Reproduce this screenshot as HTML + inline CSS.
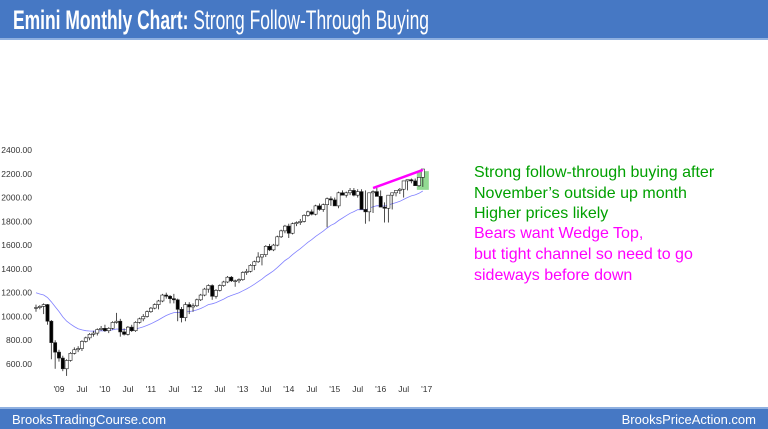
<!DOCTYPE html>
<html><head><meta charset="utf-8"><style>
html,body{margin:0;padding:0;background:#fff;}
svg{display:block;font-family:"Liberation Sans",Arial,sans-serif;}
</style></head><body>
<svg id="chart" width="768" height="429" viewBox="0 0 768 429" xmlns="http://www.w3.org/2000/svg">
<rect x="0" y="0" width="768" height="38" fill="#4678c4"/>
<rect x="0" y="38" width="768" height="2" fill="#8fb0e0"/>
<text x="13" y="29" font-size="27" fill="#fff" textLength="416" lengthAdjust="spacingAndGlyphs"><tspan font-weight="bold">Emini Monthly Chart:</tspan> Strong Follow-Through Buying</text>
<g id="yaxis"></g>
<g id="xaxis"></g>
<path id="ma" fill="none" stroke="#8080ff" stroke-width="0.8"/>
<rect id="hl" fill="#7fd47f" opacity="0.85"/>
<g id="candles"></g>
<line id="wedge" stroke="#ff00ff" stroke-width="2.5"/>
<g font-size="16">
<text x="474" y="177" fill="#00a000">Strong follow-through buying after</text>
<text x="474" y="198" fill="#00a000">November’s outside up month</text>
<text x="474" y="218" fill="#00a000">Higher prices likely</text>
<text x="474" y="238" fill="#ff00ff">Bears want Wedge Top,</text>
<text x="474" y="259" fill="#ff00ff">but tight channel so need to go</text>
<text x="474" y="280" fill="#ff00ff">sideways before down</text>
</g>
<rect x="0" y="409" width="768" height="20" fill="#4678c4"/>
<rect x="0" y="407" width="768" height="2" fill="#8fb0e0"/>
<text x="12" y="424" font-size="13" fill="#fff">BrooksTradingCourse.com</text>
<text x="756" y="424" font-size="13" fill="#fff" text-anchor="end">BrooksPriceAction.com</text>
</svg>
<script>
const yTicks=[600,800,1000,1200,1400,1600,1800,2000,2200,2400];
const xLabels=["'09","Jul","'10","Jul","'11","Jul","'12","Jul","'13","Jul","'14","Jul","'15","Jul","'16","Jul","'17"];
const xLabelMonths=[6,12,18,24,30,36,42,48,54,60,66,72,78,84,90,96,102];
const maHistory=[1260,1250,1240,1230,1220,1210,1200,1190,1180,1170,1160,1150];
const opens=[1070,1075,1085,1100,960,780,700,650,560,630,690,720,730,790,820,850,860,890,
900,880,900,950,960,870,850,910,880,950,980,1000,
1040,1070,1100,1130,1180,1170,1150,1140,1060,990,1100,1080,
1090,1140,1180,1230,1260,1170,1220,1260,1290,1330,1300,1300,
1310,1370,1380,1430,1460,1500,1520,1590,1560,1600,1670,1720,
1760,1700,1780,1790,1800,1850,1880,1860,1930,1900,1940,1990,
1980,1930,2040,2020,2040,2060,2020,2050,1900,1880,2040,2050,
2010,1920,1910,2020,2040,2060,2070,2140,2150,2140,2100,2170];
const highs=[1100,1095,1110,1105,970,800,720,670,640,700,740,750,800,830,860,880,900,920,
930,910,960,1030,980,900,920,930,960,990,1020,1050,
1080,1110,1140,1190,1200,1180,1190,1150,1080,1120,1120,1110,
1150,1190,1240,1270,1270,1230,1270,1300,1340,1340,1310,1320,
1380,1400,1440,1470,1540,1520,1600,1610,1610,1680,1730,1770,
1780,1790,1800,1820,1860,1890,1900,1940,1950,1950,2000,2010,
2000,2050,2060,2050,2080,2080,2070,2070,2060,1920,2060,2080,
2060,1960,1940,2030,2060,2080,2090,2150,2160,2160,2150,2180];
const lows=[1040,1060,1020,930,640,560,620,540,500,620,680,700,710,780,800,830,840,880,
870,860,890,940,830,840,840,870,870,940,960,990,
1030,1060,1060,1120,1150,1110,1110,960,950,960,1020,1040,
1080,1130,1170,1200,1140,1150,1210,1250,1280,1290,1250,1280,
1300,1350,1370,1390,1450,1430,1500,1550,1550,1590,1660,1700,
1660,1690,1760,1770,1790,1840,1850,1850,1890,1880,1750,1930,
1960,1910,2020,2000,2020,2010,2000,2010,1780,1800,1870,2020,
1990,1790,1790,1900,2010,2030,2000,2060,2120,2120,2090,2090];
const closes=[1075,1085,1100,960,780,700,650,560,630,690,720,730,790,820,850,860,890,900,
880,900,950,960,870,850,910,880,950,980,1000,1040,
1070,1100,1130,1180,1170,1150,1140,1060,990,1100,1080,1090,
1140,1180,1230,1260,1170,1220,1260,1290,1330,1300,1300,1310,
1370,1380,1430,1460,1500,1520,1590,1560,1600,1670,1720,1760,
1700,1780,1790,1800,1850,1880,1860,1930,1900,1940,1990,1980,
1930,2040,2020,2040,2060,2020,2050,1900,1880,2040,2050,2010,
1920,1910,2020,2040,2060,2070,2140,2150,2140,2100,2170,2240];
const wedgeStart=[88,2080], wedgeEnd=[101,2232];

const NS="http://www.w3.org/2000/svg";
const xOf=i=>36+i*3.83;
const yOf=v=>150+(2400-v)*0.1189;
function mk(tag,attrs,parent){const e=document.createElementNS(NS,tag);for(const k in attrs)e.setAttribute(k,attrs[k]);parent.appendChild(e);return e;}
const ya=document.getElementById('yaxis');
yTicks.forEach(v=>{const t=mk('text',{x:32,y:yOf(v)+3,'font-size':8.5,fill:'#333','text-anchor':'end'},ya);


t.textContent=v.toFixed(2);});
const xa=document.getElementById('xaxis');
xLabels.forEach((s,i)=>{const t=mk('text',{x:xOf(xLabelMonths[i]),y:392,'font-size':8.5,fill:'#333','text-anchor':'middle'},xa);


t.textContent=s;});
let all=maHistory.concat(closes);let ema=maHistory[0];const k=2/(20+1);let pts=[];
all.forEach((c,j)=>{ema=j===0?c:ema+(c-ema)*k;const i=j-maHistory.length;if(i>=0)pts.push((pts.length?'L':'M')+xOf(i).toFixed(1)+' '+yOf(ema).toFixed(1));});
document.getElementById('ma').setAttribute('d',pts.join(' '));
const cg=document.getElementById('candles');
closes.forEach((c,i)=>{const o=opens[i],x=xOf(i);
const g=mk('g',{},cg);


mk('line',{x1:x,x2:x,y1:yOf(highs[i]),y2:yOf(lows[i]),stroke:'#222','stroke-width':0.8},g);
const top=yOf(Math.max(o,c)),bot=yOf(Math.min(o,c));
mk('rect',{x:x-1.6,y:top,width:3.2,height:Math.max(bot-top,0.8),fill:c<o?'#000':'#fff',stroke:'#222','stroke-width':0.6},g);});
const last=closes.length-1;
const hl=document.getElementById('hl');
hl.setAttribute('x',xOf(last)-6);hl.setAttribute('width',12);
hl.setAttribute('y',yOf(highs[last])-5);hl.setAttribute('height',yOf(lows[last])-yOf(highs[last])+8);
const w=document.getElementById('wedge');
w.setAttribute('x1',xOf(wedgeStart[0]));w.setAttribute('y1',yOf(wedgeStart[1]));
w.setAttribute('x2',xOf(wedgeEnd[0]));w.setAttribute('y2',yOf(wedgeEnd[1]));
</script>
</body></html>
